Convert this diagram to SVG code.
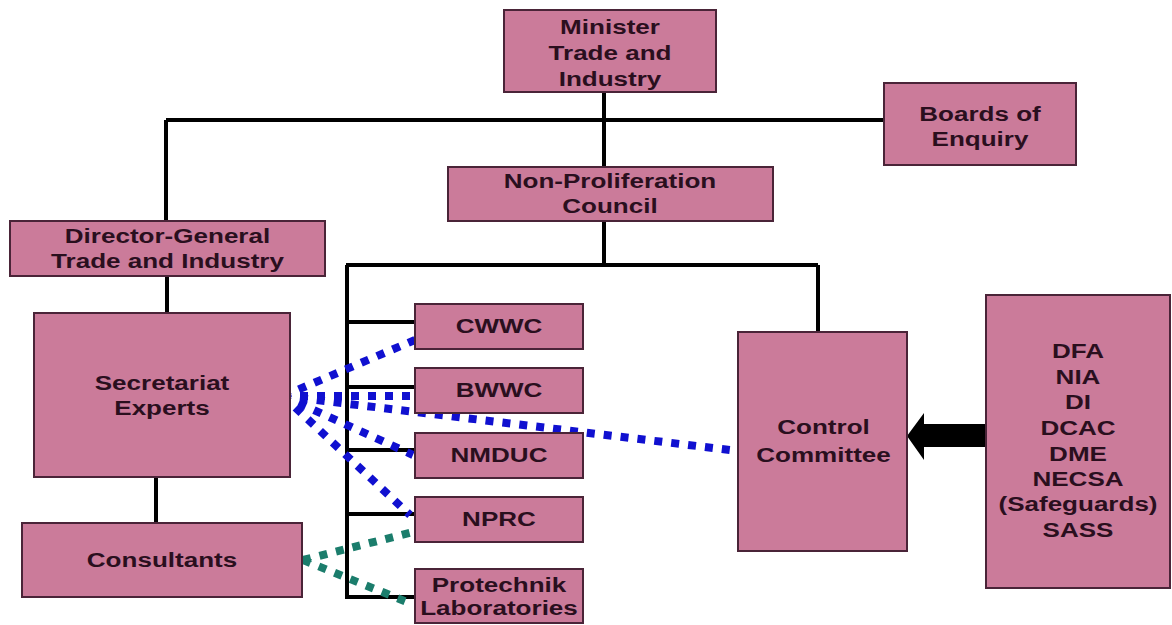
<svg xmlns="http://www.w3.org/2000/svg" width="1172" height="625" viewBox="0 0 1172 625">
<style>
.box{fill:#cb7b9a;stroke:#4a2438;stroke-width:2}
.t{font-family:"Liberation Sans",Arial,sans-serif;font-weight:bold;font-size:21px;fill:#2a0f1e;text-anchor:middle}
.ln{fill:none;stroke:#000;stroke-width:4}
.blue{fill:none;stroke:#1010d0;stroke-width:8;stroke-dasharray:8 9}
.teal{fill:none;stroke:#1b7d6c;stroke-width:8;stroke-dasharray:8 9}
</style>
<rect width="1172" height="625" fill="#fff"/>
<g id="connectors">
<path class="ln" d="M604 92V167M166 120H884M166 120V221M167 276V313M156 477V523M604 221V265M346 265H818M818 265V332M347 265V599M347 322H415M347 387H415M347 450H415M347 514H415M347 597H415"/>
<path class="blue" d="M283 396L415 340M283 396H415M283 396L730 450M283 396L413 455M283 396L410 515"/>
<path class="teal" d="M303 560L413 532M303 560L412 604"/>
<polygon points="986,424 924,424 924,413 907,436 924,460 924,447 986,447" fill="#000"/>
</g>
<g id="minister"><rect class="box" x="504" y="10" width="212" height="82"/>
<text class="t" transform="translate(610 0) scale(1.24 1)"><tspan x="0" y="34">Minister</tspan><tspan x="0" y="60">Trade and</tspan><tspan x="0" y="86">Industry</tspan></text></g>
<g id="boards"><rect class="box" x="884" y="83" width="192" height="82"/>
<text class="t" transform="translate(980 0) scale(1.24 1)"><tspan x="0" y="121">Boards of</tspan><tspan x="0" y="146">Enquiry</tspan></text></g>
<g id="npc"><rect class="box" x="448" y="167" width="325" height="54"/>
<text class="t" transform="translate(610 0) scale(1.24 1)"><tspan x="0" y="188">Non-Proliferation</tspan><tspan x="0" y="213">Council</tspan></text></g>
<g id="dg"><rect class="box" x="10" y="221" width="315" height="55"/>
<text class="t" transform="translate(167.5 0) scale(1.24 1)"><tspan x="0" y="243">Director-General</tspan><tspan x="0" y="268">Trade and Industry</tspan></text></g>
<g id="secretariat"><rect class="box" x="34" y="313" width="256" height="164"/>
<text class="t" transform="translate(162 0) scale(1.24 1)"><tspan x="0" y="390">Secretariat</tspan><tspan x="0" y="415">Experts</tspan></text></g>
<g id="consultants"><rect class="box" x="22" y="523" width="280" height="74"/>
<text class="t" transform="translate(162 0) scale(1.24 1)"><tspan x="0" y="567">Consultants</tspan></text></g>
<g id="cwwc"><rect class="box" x="415" y="304" width="168" height="45"/>
<text class="t" transform="translate(499 0) scale(1.24 1)"><tspan x="0" y="333">CWWC</tspan></text></g>
<g id="bwwc"><rect class="box" x="415" y="368" width="168" height="45"/>
<text class="t" transform="translate(499 0) scale(1.24 1)"><tspan x="0" y="397">BWWC</tspan></text></g>
<g id="nmduc"><rect class="box" x="415" y="433" width="168" height="45"/>
<text class="t" transform="translate(499 0) scale(1.24 1)"><tspan x="0" y="462">NMDUC</tspan></text></g>
<g id="nprc"><rect class="box" x="415" y="497" width="168" height="45"/>
<text class="t" transform="translate(499 0) scale(1.24 1)"><tspan x="0" y="526">NPRC</tspan></text></g>
<g id="protechnik"><rect class="box" x="415" y="569" width="168" height="54"/>
<text class="t" transform="translate(499 0) scale(1.24 1)"><tspan x="0" y="592">Protechnik</tspan><tspan x="0" y="615">Laboratories</tspan></text></g>
<g id="control"><rect class="box" x="738" y="332" width="169" height="219"/>
<text class="t" transform="translate(823.5 0) scale(1.24 1)"><tspan x="0" y="434">Control</tspan><tspan x="0" y="462">Committee</tspan></text></g>
<g id="agencies"><rect class="box" x="986" y="295" width="184" height="293"/>
<text class="t" transform="translate(1078 0) scale(1.24 1)"><tspan x="0" y="358">DFA</tspan><tspan x="0" y="384">NIA</tspan><tspan x="0" y="409">DI</tspan><tspan x="0" y="435">DCAC</tspan><tspan x="0" y="461">DME</tspan><tspan x="0" y="486">NECSA</tspan><tspan x="0" y="511">(Safeguards)</tspan><tspan x="0" y="537">SASS</tspan></text></g>
</svg>
